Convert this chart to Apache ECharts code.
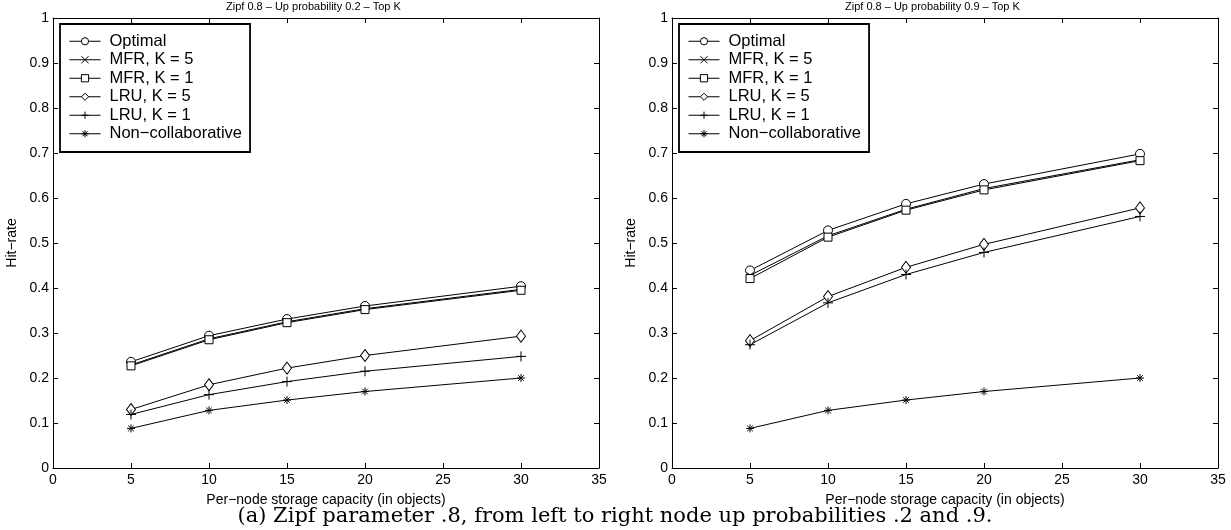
<!DOCTYPE html>
<html>
<head>
<meta charset="UTF-8">
<title>Hit-rate, Zipf 0.8</title>
<script src="https://cdn.jsdelivr.net/npm/echarts@6/dist/echarts.min.js"></script>
<style>
  html, body { margin: 0; padding: 0; background: #fff; }
  #chart { width: 1231px; height: 530px; }
</style>
</head>
<body>
<div id="chart"></div>
<script>
// capacities on the x axis
const capacity = [5, 10, 15, 20, 30];
const xTicks = [0, 5, 10, 15, 20, 25, 30, 35];
const yTicks = [0, 0.1, 0.2, 0.3, 0.4, 0.5, 0.6, 0.7, 0.8, 0.9, 1];

const seriesNames = ['Optimal', 'MFR, K = 5', 'MFR, K = 1', 'LRU, K = 5', 'LRU, K = 1', 'Non\u2212collaborative'];

// left panel: up probability 0.2
const optimalA = [0.236, 0.294, 0.331, 0.360, 0.404];
const mfr5A    = [0.229, 0.287, 0.325, 0.354, 0.397];
const mfr1A    = [0.227, 0.285, 0.323, 0.352, 0.395];
const lru5A    = [0.130, 0.185, 0.222, 0.250, 0.293];
const lru1A    = [0.119, 0.163, 0.192, 0.215, 0.248];
const nonA     = [0.088, 0.128, 0.151, 0.170, 0.200];

// right panel: up probability 0.9
const optimalB = [0.439, 0.528, 0.587, 0.631, 0.698];
const mfr5B    = [0.428, 0.516, 0.575, 0.621, 0.685];
const mfr1B    = [0.421, 0.513, 0.573, 0.618, 0.683];
const lru5B    = [0.283, 0.381, 0.446, 0.497, 0.578];
const lru1B    = [0.274, 0.367, 0.430, 0.479, 0.559];
const nonB     = [0.088, 0.128, 0.151, 0.170, 0.200];

const titles = ['Zipf 0.8 \u2013 Up probability 0.2 \u2013 Top K', 'Zipf 0.8 \u2013 Up probability 0.9 \u2013 Top K'];
const caption = '(a) Zipf parameter .8, from left to right node up probabilities .2 and .9.';

const FONT = 'Liberation Sans, Arial, sans-serif';

// marker look per series (matlab style, black)
const markers = [
  { symbol: 'circle', size: 9, fill: '#fff' },
  { symbol: 'path://M0,0L10,10M0,10L10,0', size: 6, fill: 'transparent' },
  { symbol: 'rect', size: 8, fill: '#fff' },
  { symbol: 'path://M5,0L10,6L5,12L0,6Z', size: [9, 12], fill: '#fff' },
  { symbol: 'path://M5,0L5,10M0,5L10,5', size: 10, fill: 'transparent' },
  { symbol: 'path://M5,0L5,10M0,5L10,5M1.5,1.5L8.5,8.5M1.5,8.5L8.5,1.5', size: 8, fill: 'transparent' }
];

const panels = [
  { left: 53, data: [optimalA, mfr5A, mfr1A, lru5A, lru1A, nonA] },
  { left: 672, data: [optimalB, mfr5B, mfr1B, lru5B, lru1B, nonB] }
];
const plotTop = 18, plotH = 450, plotW = 546;

const grids = [], xAxes = [], yAxes = [], series = [], legends = [], graphics = [];

panels.forEach((p, i) => {
  grids.push({ left: p.left, top: plotTop, width: plotW, height: plotH });
  const axisBase = {
    type: 'value',
    gridIndex: i,
    axisLine: { show: true, onZero: false, lineStyle: { color: '#000', width: 1 } },
    axisTick: { show: true, inside: true, length: 5, lineStyle: { color: '#000' } },
    splitLine: { show: false }
  };
  xAxes.push(Object.assign({}, axisBase, {
    position: 'bottom', min: xTicks[0], max: xTicks[xTicks.length - 1], interval: 5,
    axisLabel: { color: '#000', fontSize: 14, fontFamily: FONT, margin: 5 },
    name: 'Per\u2212node storage capacity (in objects)', nameLocation: 'middle', nameGap: 25,
    nameTextStyle: { color: '#000', fontSize: 14, fontFamily: FONT }
  }));
  xAxes.push(Object.assign({}, axisBase, {
    position: 'top', min: xTicks[0], max: xTicks[xTicks.length - 1], interval: 5,
    axisLabel: { show: false }
  }));
  yAxes.push(Object.assign({}, axisBase, {
    position: 'left', min: yTicks[0], max: yTicks[yTicks.length - 1], interval: 0.1,
    axisLabel: { color: '#000', fontSize: 14, fontFamily: FONT, margin: 4 },
    name: 'Hit\u2212rate', nameLocation: 'middle', nameGap: 34,
    nameTextStyle: { color: '#000', fontSize: 14, fontFamily: FONT }
  }));
  yAxes.push(Object.assign({}, axisBase, {
    position: 'right', min: yTicks[0], max: yTicks[yTicks.length - 1], interval: 0.1,
    axisLabel: { show: false }
  }));

  p.data.forEach((vals, k) => {
    const m = markers[k];
    series.push({
      type: 'line',
      name: seriesNames[k],
      xAxisIndex: i * 2,
      yAxisIndex: i * 2,
      data: capacity.map((c, j) => [c, vals[j]]),
      symbol: m.symbol,
      symbolSize: m.size,
      showAllSymbol: true,
      lineStyle: { color: '#000', width: 1 },
      itemStyle: { color: m.fill, borderColor: '#000', borderWidth: 1 },
      emphasis: { disabled: true },
      animation: false
    });
  });

  legends.push({
    data: seriesNames,
    orient: 'vertical',
    left: p.left + 7,
    top: plotTop + 6,
    itemWidth: 31,
    itemHeight: 9,
    itemGap: 0,
    padding: [8, 8, 9, 9],
    borderColor: '#000',
    borderWidth: 1.8,
    borderRadius: 0,
    backgroundColor: '#fff',
    selectedMode: false,
    lineStyle: { width: 1 },
    itemStyle: { borderWidth: 1 },
    textStyle: { color: '#000', fontSize: 16.5, fontFamily: FONT, lineHeight: 18.5, padding: [0, 0, 0, 4] }
  });

  graphics.push({
    type: 'text',
    left: p.left + plotW / 2 - 100,
    top: 1,
    style: { text: titles[i], fill: '#000', font: '11px ' + FONT, width: 200, align: 'center' }
  });
});

graphics.push({
  type: 'text',
  x: 615,
  y: 517,
  style: {
    text: caption, fill: '#000', font: '21px "DejaVu Serif", "Liberation Serif", serif',
    align: 'center', verticalAlign: 'middle'
  }
});

const chart = echarts.init(document.getElementById('chart'));
chart.setOption({
  animation: false,
  backgroundColor: '#fff',
  grid: grids,
  xAxis: xAxes,
  yAxis: yAxes,
  legend: legends,
  series: series,
  graphic: graphics
});
</script>
</body>
</html>
